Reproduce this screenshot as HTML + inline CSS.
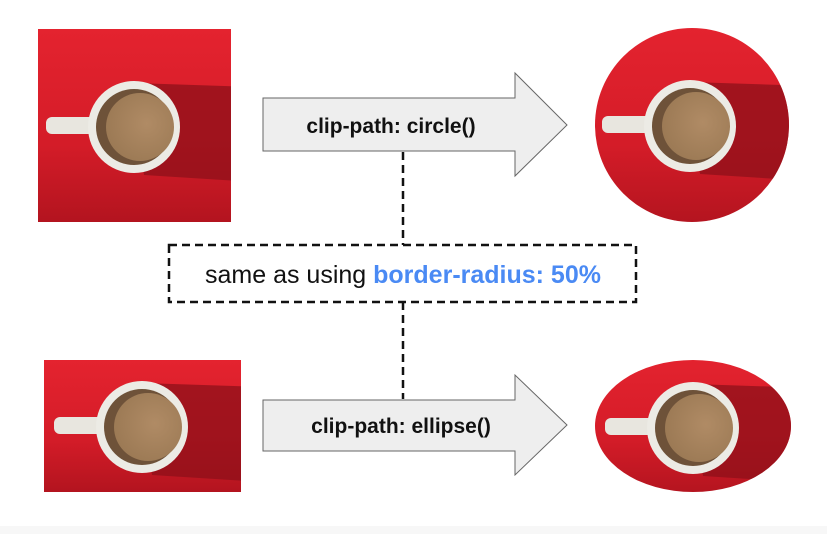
<!DOCTYPE html>
<html><head><style>
html,body{margin:0;padding:0;background:#fff;}
body{width:827px;height:534px;overflow:hidden;position:relative;font-family:"Liberation Sans",sans-serif;}
</style></head><body>
<svg width="827" height="534" viewBox="0 0 827 534" xmlns="http://www.w3.org/2000/svg">
<defs>
<linearGradient id="bg" x1="0" y1="0" x2="0" y2="1">
<stop offset="0" stop-color="#e4232f"/><stop offset="0.6" stop-color="#d41c28"/><stop offset="1" stop-color="#b3141f"/>
</linearGradient>
<radialGradient id="liq" cx="0.6" cy="0.45" r="0.6">
<stop offset="0" stop-color="#b08b65"/><stop offset="1" stop-color="#9c7a55"/>
</radialGradient>
<g id="cup">
<polygon points="0,-44 120,-40 120,55 10,48" fill="#8e1019" opacity="0.75"/>
<rect x="-88" y="-10" width="50" height="17" rx="6" fill="#e8e6df"/>
<circle r="46" fill="#ecebe5"/>
<circle r="38" fill="#6e5239"/>
<circle cx="6" cy="0" r="34" fill="url(#liq)"/>
</g>
<clipPath id="c1"><rect x="38" y="29" width="193" height="193"/></clipPath>
<clipPath id="c2"><circle cx="692" cy="125" r="97"/></clipPath>
<clipPath id="c3"><rect x="44" y="360" width="197" height="132"/></clipPath>
<clipPath id="c4"><ellipse cx="693" cy="426" rx="98" ry="66"/></clipPath>
</defs>
<rect x="0" y="526" width="827" height="8" fill="#f7f7f7"/>

<g clip-path="url(#c1)"><rect x="38" y="29" width="193" height="193" fill="url(#bg)"/><use href="#cup" x="134" y="127"/></g>
<g clip-path="url(#c2)"><rect x="590" y="25" width="205" height="200" fill="url(#bg)"/><use href="#cup" x="690" y="126"/></g>
<g clip-path="url(#c3)"><rect x="44" y="360" width="197" height="132" fill="url(#bg)"/><use href="#cup" x="142" y="427"/></g>
<g clip-path="url(#c4)"><rect x="590" y="355" width="205" height="140" fill="url(#bg)"/><use href="#cup" x="693" y="428"/></g>

<polygon points="263,98 515,98 515,73 567,125 515,176 515,151 263,151" fill="#eeeeee" stroke="#666" stroke-width="1"/>
<text x="391" y="133" text-anchor="middle" font-size="21" font-weight="bold" fill="#111">clip-path: circle()</text>
<polygon points="263,400 515,400 515,375 567,425 515,475 515,451 263,451" fill="#eeeeee" stroke="#666" stroke-width="1"/>
<text x="401" y="433" text-anchor="middle" font-size="21" font-weight="bold" fill="#111">clip-path: ellipse()</text>

<line x1="403" y1="152" x2="403" y2="245" stroke="#111" stroke-width="2.5" stroke-dasharray="8,5"/>
<line x1="403" y1="302" x2="403" y2="399" stroke="#111" stroke-width="2.5" stroke-dasharray="8,5"/>
<rect x="169" y="245" width="467" height="57" fill="#fff" stroke="#111" stroke-width="2.5" stroke-dasharray="8,5"/>
<text x="403" y="283" text-anchor="middle" font-size="25" fill="#111">same as using <tspan fill="#4a8af4" font-weight="bold">border-radius: 50%</tspan></text>
</svg>
</body></html>
